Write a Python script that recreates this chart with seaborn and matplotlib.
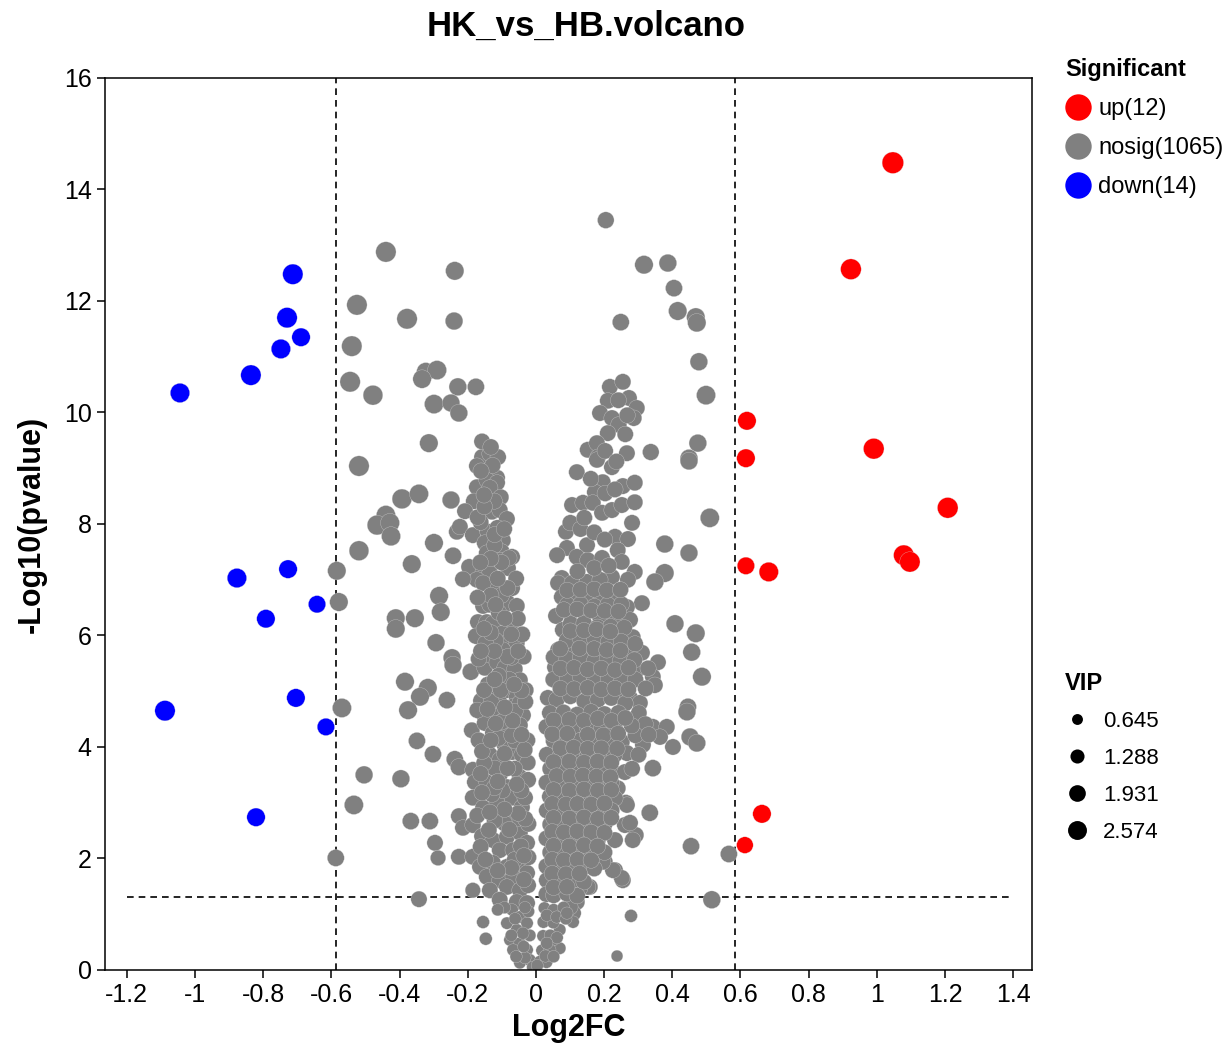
import numpy as np
import pandas as pd
import seaborn as sns
import matplotlib.pyplot as plt
from matplotlib.lines import Line2D

# significant genes (log2FC, -log10 p, VIP)
up_x = [1.047, 0.924, 0.991, 1.208, 1.079, 1.097, 0.619, 0.616, 0.616, 0.683, 0.663, 0.613]
up_y = [14.48, 12.57, 9.35, 8.29, 7.44, 7.32, 9.85, 9.18, 7.25, 7.14, 2.80, 2.24]
up_vip = [3.4, 3.1, 3.1, 3.1, 3.0, 3.0, 2.4, 2.4, 2.1, 2.7, 2.4, 1.9]

down_x = [-0.713, -0.730, -0.689, -0.748, -0.836, -1.044, -0.877, -0.727, -0.642, -0.792,
          -0.704, -1.088, -0.616, -0.821]
down_y = [12.48, 11.70, 11.35, 11.14, 10.67, 10.35, 7.03, 7.19, 6.56, 6.30, 4.88, 4.65, 4.36, 2.74]
down_vip = [3.0, 3.0, 2.4, 2.7, 3.0, 2.7, 2.7, 2.4, 2.1, 2.4, 2.4, 3.0, 2.1, 2.4]

# isolated non-significant genes (log2FC, -log10 p, VIP)
gray_outer = np.array([
    (-0.440, 12.88, 3.0), (-0.238, 12.54, 2.4), (-0.525, 11.93, 3.0), (-0.378, 11.68, 3.0),
    (-0.240, 11.64, 2.2), (-0.540, 11.19, 3.0), (-0.323, 10.73, 2.4), (-0.290, 10.76, 2.6),
    (-0.334, 10.60, 2.4), (-0.545, 10.55, 3.0), (-0.478, 10.31, 2.8), (-0.229, 10.46, 2.2),
    (-0.176, 10.46, 2.0), (-0.299, 10.15, 2.6), (-0.249, 10.17, 2.2), (-0.226, 9.99, 2.2),
    (-0.314, 9.45, 2.4), (-0.519, 9.04, 3.0), (-0.393, 8.45, 2.8), (-0.343, 8.54, 2.6),
    (-0.249, 8.43, 2.2), (-0.440, 8.16, 2.6), (-0.466, 7.98, 2.8), (-0.428, 8.02, 2.6),
    (-0.425, 7.78, 2.6), (-0.299, 7.66, 2.4), (-0.519, 7.52, 2.8), (-0.243, 7.43, 2.0),
    (-0.364, 7.28, 2.4), (-0.584, 7.16, 2.4), (-0.578, 6.60, 2.4), (-0.284, 6.71, 2.4),
    (-0.279, 6.42, 2.4), (-0.411, 6.31, 2.4), (-0.411, 6.12, 2.4), (-0.355, 6.31, 2.4),
    (-0.293, 5.87, 2.2), (-0.246, 5.60, 2.2), (-0.243, 5.47, 2.2), (-0.191, 5.35, 2.0),
    (-0.384, 5.17, 2.4), (-0.317, 5.06, 2.4), (-0.340, 4.90, 2.4), (-0.261, 4.84, 2.0),
    (-0.569, 4.70, 2.6), (-0.375, 4.66, 2.4), (-0.349, 4.11, 2.0), (-0.302, 3.87, 2.0),
    (-0.238, 3.78, 2.0), (-0.226, 3.64, 2.0), (-0.504, 3.50, 2.2), (-0.396, 3.43, 2.2),
    (-0.534, 2.96, 2.6), (-0.367, 2.67, 2.0), (-0.311, 2.67, 2.0), (-0.296, 2.28, 1.8),
    (-0.287, 2.01, 1.6), (-0.226, 2.03, 1.8), (-0.587, 2.01, 2.0), (-0.343, 1.27, 1.8),
    (-0.155, 0.86, 1.0), (-0.147, 0.56, 1.0), (-0.185, 1.43, 1.6),
    (0.205, 13.45, 1.9), (0.317, 12.65, 2.4), (0.387, 12.68, 2.2), (0.405, 12.23, 2.0),
    (0.416, 11.82, 2.4), (0.469, 11.71, 2.4), (0.472, 11.61, 2.4), (0.249, 11.62, 2.0),
    (0.478, 10.91, 2.2), (0.499, 10.31, 2.6), (0.475, 9.45, 2.2), (0.337, 9.29, 1.9),
    (0.449, 9.18, 2.2), (0.449, 9.13, 2.2), (0.510, 8.11, 2.6), (0.378, 7.64, 2.2),
    (0.449, 7.48, 2.2), (0.378, 7.12, 2.4), (0.349, 6.96, 2.2), (0.408, 6.21, 2.2),
    (0.469, 6.04, 2.4), (0.457, 5.70, 2.2), (0.487, 5.26, 2.4), (0.446, 4.72, 2.0),
    (0.443, 4.63, 2.2), (0.452, 4.18, 2.2), (0.472, 4.07, 2.2), (0.343, 3.62, 2.0),
    (0.334, 2.82, 2.0), (0.455, 2.22, 2.0), (0.566, 2.08, 2.0), (0.516, 1.26, 2.2),
    (0.279, 0.97, 1.0), (0.238, 0.25, 0.8),
])

# dense left arm (log2FC, -log10 p)
gray_left = np.array([
    (-0.158, 9.20), (-0.135, 9.26), (-0.111, 9.20), (-0.173, 9.04), (-0.135, 8.95), (-0.144, 8.83),
    (-0.114, 8.83), (-0.173, 8.66), (-0.144, 8.79), (-0.114, 8.74), (-0.135, 8.65), (-0.182, 8.41),
    (-0.103, 8.48), (-0.208, 8.23), (-0.129, 8.22), (-0.106, 8.25), (-0.232, 7.86), (-0.223, 7.95),
    (-0.185, 7.80), (-0.141, 7.86), (-0.085, 8.09), (-0.150, 7.66), (-0.144, 7.48), (-0.097, 7.71),
    (-0.100, 7.50), (-0.106, 7.35), (-0.070, 7.41), (-0.196, 7.23), (-0.155, 7.14), (-0.135, 7.12),
    (-0.173, 7.00), (-0.214, 7.01), (-0.126, 6.87), (-0.155, 6.94), (-0.082, 7.21), (-0.079, 7.39),
    (-0.070, 6.85), (-0.155, 6.53), (-0.135, 6.55), (-0.082, 6.58), (-0.056, 6.53), (-0.170, 6.24),
    (-0.144, 6.24), (-0.126, 6.22), (-0.070, 6.24), (-0.053, 6.30), (-0.176, 5.99), (-0.097, 6.04),
    (-0.085, 5.87), (-0.056, 5.87), (-0.097, 5.74), (-0.150, 5.42), (-0.135, 5.65), (-0.114, 5.52),
    (-0.091, 5.42), (-0.062, 5.40), (-0.047, 5.20), (-0.161, 4.83), (-0.120, 5.08), (-0.085, 5.02),
    (-0.056, 4.90), (-0.106, 4.79), (-0.070, 4.72), (-0.047, 4.79), (-0.150, 4.54), (-0.114, 4.61),
    (-0.085, 4.57), (-0.038, 4.57), (-0.188, 4.30), (-0.150, 4.43), (-0.126, 4.25), (-0.085, 4.30),
    (-0.047, 4.39), (-0.144, 4.04), (-0.135, 3.86), (-0.106, 3.77), (-0.070, 3.91), (-0.041, 3.86),
    (-0.185, 3.59), (-0.179, 3.37), (-0.144, 3.37), (-0.106, 3.50), (-0.085, 3.28), (-0.047, 3.46),
    (-0.023, 3.41), (-0.185, 3.09), (-0.155, 2.91), (-0.114, 3.01), (-0.070, 3.09), (-0.041, 2.92),
    (-0.032, 3.09), (-0.226, 2.76), (-0.214, 2.55), (-0.185, 2.60), (-0.158, 2.40), (-0.126, 2.33),
    (-0.085, 2.39), (-0.047, 2.46), (-0.026, 2.28), (-0.106, 2.15), (-0.067, 2.15), (-0.185, 2.03),
    (-0.164, 1.85), (-0.126, 1.92), (-0.085, 1.85), (-0.047, 1.92), (-0.026, 1.74), (-0.144, 1.67),
    (-0.106, 1.61), (-0.067, 1.67), (-0.135, 1.43), (-0.085, 1.49), (-0.047, 1.43), (-0.106, 1.26),
    (-0.056, 1.22), (-0.026, 1.20),
    (-0.022, 2.62), (-0.024, 3.72), (-0.025, 4.12), (-0.030, 5.02), (-0.036, 5.62), (-0.040, 6.02),
    (-0.022, 2.02), (-0.023, 1.52), (-0.058, 2.71), (-0.092, 2.63), (-0.121, 2.68), (-0.098, 3.22),
    (-0.129, 3.15), (-0.062, 3.61), (-0.121, 3.62), (-0.093, 4.05), (-0.061, 4.11), (-0.101, 4.45),
    (-0.131, 4.81), (-0.078, 5.21), (-0.109, 5.28), (-0.118, 5.91), (-0.148, 5.86), (-0.072, 5.61),
    (-0.109, 6.41), (-0.101, 6.72), (-0.058, 7.02), (-0.121, 7.62), (-0.162, 8.03), (-0.122, 8.41),
    (-0.158, 9.48), (-0.132, 9.38), (-0.162, 2.21), (-0.031, 2.71), (-0.122, 3.27), (-0.158, 3.18),
    (-0.152, 3.71), (-0.109, 4.16), (-0.168, 4.12), (-0.061, 4.64), (-0.172, 4.66), (-0.141, 5.12),
    (-0.168, 5.58), (-0.132, 6.05), (-0.132, 6.72), (-0.171, 6.68), (-0.101, 7.31), (-0.113, 7.93),
    (-0.171, 8.12), (-0.043, 3.22), (-0.062, 1.98), (-0.044, 2.22), (-0.031, 4.81),
    (-0.035, 1.62), (-0.072, 1.83), (-0.112, 1.78), (-0.148, 1.98), (-0.035, 2.05), (-0.078, 2.52),
    (-0.138, 2.51), (-0.172, 2.77), (-0.052, 2.81), (-0.092, 2.88), (-0.135, 2.83), (-0.056, 3.33),
    (-0.112, 3.38), (-0.162, 3.52), (-0.083, 3.62), (-0.033, 3.95), (-0.092, 3.88), (-0.158, 3.92),
    (-0.071, 4.21), (-0.132, 4.12), (-0.042, 4.22), (-0.118, 4.42), (-0.068, 4.47), (-0.142, 4.68),
    (-0.091, 4.71), (-0.042, 5.01), (-0.103, 5.02), (-0.152, 5.02), (-0.064, 5.12), (-0.121, 5.21),
    (-0.083, 5.62), (-0.052, 5.72), (-0.122, 5.72), (-0.161, 5.72), (-0.072, 6.02), (-0.152, 6.12),
    (-0.091, 6.31), (-0.118, 6.55), (-0.083, 6.85), (-0.112, 7.02), (-0.132, 7.38), (-0.163, 7.31),
    (-0.121, 7.81), (-0.093, 7.91), (-0.151, 8.31), (-0.152, 8.52), (-0.127, 9.05), (-0.161, 8.95),
])

# dense right arm (log2FC, -log10 p)
gray_right = np.array([
    (0.217, 10.46), (0.255, 10.55), (0.211, 10.21), (0.273, 10.26), (0.296, 10.08), (0.287, 9.90),
    (0.188, 9.99), (0.223, 9.90), (0.243, 9.78), (0.211, 9.63), (0.152, 9.33), (0.179, 9.45),
    (0.182, 9.20), (0.267, 9.27), (0.120, 8.93), (0.223, 9.02), (0.179, 9.15), (0.196, 8.75),
    (0.173, 8.57), (0.255, 8.68), (0.290, 8.74), (0.106, 8.34), (0.138, 8.38), (0.167, 8.38),
    (0.194, 8.20), (0.223, 8.25), (0.252, 8.34), (0.290, 8.39), (0.282, 8.02), (0.088, 7.86),
    (0.232, 7.77), (0.270, 7.73), (0.150, 7.62), (0.091, 7.57), (0.062, 7.44), (0.120, 7.41),
    (0.152, 7.35), (0.194, 7.39), (0.240, 7.53), (0.252, 7.32), (0.290, 7.14), (0.270, 7.00),
    (0.223, 7.05), (0.076, 7.03), (0.065, 6.94), (0.106, 6.94), (0.150, 6.96), (0.188, 7.00),
    (0.076, 6.69), (0.109, 6.76), (0.150, 6.69), (0.188, 6.76), (0.223, 6.69), (0.311, 6.58),
    (0.267, 6.51), (0.059, 6.35), (0.100, 6.40), (0.144, 6.40), (0.188, 6.33), (0.232, 6.28),
    (0.276, 6.28), (0.079, 6.10), (0.120, 6.01), (0.158, 6.06), (0.196, 5.97), (0.238, 6.04),
    (0.284, 5.97), (0.065, 5.74), (0.109, 5.79), (0.150, 5.74), (0.188, 5.79), (0.226, 5.70),
    (0.267, 5.74), (0.311, 5.69), (0.358, 5.52), (0.056, 5.43), (0.094, 5.38), (0.138, 5.43),
    (0.179, 5.35), (0.217, 5.42), (0.255, 5.33), (0.296, 5.38), (0.343, 5.26), (0.349, 5.11),
    (0.035, 4.88), (0.079, 5.02), (0.120, 5.08), (0.158, 4.99), (0.196, 5.08), (0.240, 5.02),
    (0.276, 4.88), (0.305, 4.79), (0.343, 4.36), (0.384, 4.36), (0.314, 4.04), (0.402, 4.00),
    (0.364, 4.18), (0.252, 4.09), (0.267, 3.89), (0.226, 3.55), (0.261, 3.55), (0.240, 3.26),
    (0.264, 3.00), (0.293, 2.42), (0.261, 2.60), (0.232, 2.33), (0.202, 1.94), (0.232, 1.79),
    (0.255, 1.61), (0.267, 2.96), (0.276, 2.64), (0.284, 2.33), (0.252, 1.65), (0.226, 1.79),
    (0.196, 1.94), (0.158, 1.49), (0.129, 1.49), (0.120, 1.22), (0.094, 1.08), (0.152, 1.49),
    (0.129, 1.47), (0.109, 1.02), (0.100, 1.13),
    (0.101, 8.02), (0.131, 7.91), (0.171, 7.85), (0.202, 7.72), (0.142, 8.11), (0.203, 8.55),
    (0.161, 8.81), (0.232, 8.62), (0.262, 9.61), (0.242, 10.22), (0.268, 9.95), (0.203, 9.31),
    (0.236, 9.12), (0.122, 7.15), (0.171, 7.21), (0.214, 7.25), (0.092, 6.55), (0.131, 6.56),
    (0.172, 6.52), (0.211, 6.55), (0.251, 6.56), (0.102, 6.21), (0.141, 6.22), (0.181, 6.15),
    (0.219, 6.16), (0.259, 6.14), (0.091, 5.91), (0.132, 5.92), (0.171, 5.95), (0.212, 5.88),
    (0.251, 5.89), (0.291, 5.85), (0.052, 5.61), (0.091, 5.58), (0.131, 5.61), (0.172, 5.55),
    (0.209, 5.58), (0.248, 5.55), (0.289, 5.56), (0.329, 5.41), (0.051, 5.21), (0.092, 5.22),
    (0.131, 5.25), (0.171, 5.18), (0.212, 5.22), (0.251, 5.18), (0.292, 5.21), (0.322, 5.05),
    (0.061, 4.85), (0.101, 4.91), (0.142, 4.82), (0.182, 4.85), (0.221, 4.88), (0.262, 4.78),
    (0.302, 4.61), (0.321, 4.41), (0.292, 4.21), (0.331, 4.22), (0.301, 3.86), (0.282, 3.61),
    (0.041, 4.61), (0.081, 4.62), (0.121, 4.58), (0.162, 4.63), (0.201, 4.59), (0.242, 4.61),
    (0.031, 4.36), (0.072, 4.33), (0.112, 4.37), (0.151, 4.35), (0.192, 4.32), (0.231, 4.36),
    (0.281, 4.38), (0.052, 4.11), (0.091, 4.08), (0.131, 4.12), (0.172, 4.09), (0.212, 4.11),
    (0.032, 3.86), (0.071, 3.84), (0.112, 3.87), (0.152, 3.85), (0.191, 3.83), (0.231, 3.86),
    (0.042, 3.61), (0.081, 3.58), (0.122, 3.62), (0.161, 3.59), (0.202, 3.61), (0.031, 3.36),
    (0.072, 3.34), (0.111, 3.37), (0.151, 3.35), (0.192, 3.32), (0.221, 3.36), (0.041, 3.11),
    (0.082, 3.08), (0.121, 3.12), (0.162, 3.09), (0.201, 3.11), (0.232, 3.08), (0.032, 2.86),
    (0.062, 2.84), (0.102, 2.87), (0.141, 2.85), (0.182, 2.82), (0.222, 2.86), (0.042, 2.61),
    (0.081, 2.58), (0.122, 2.62), (0.161, 2.59), (0.201, 2.61), (0.031, 2.36), (0.062, 2.34),
    (0.102, 2.37), (0.141, 2.35), (0.181, 2.32), (0.042, 2.11), (0.082, 2.08), (0.121, 2.12),
    (0.162, 2.09), (0.201, 2.11), (0.031, 1.86), (0.062, 1.84), (0.101, 1.87), (0.141, 1.85),
    (0.171, 1.82), (0.032, 1.61), (0.071, 1.59), (0.112, 1.62), (0.141, 1.58), (0.031, 1.36),
    (0.052, 1.34), (0.091, 1.37), (0.121, 1.33),
    (0.052, 4.48), (0.098, 4.49), (0.141, 4.47), (0.182, 4.51), (0.222, 4.47), (0.262, 4.52),
    (0.048, 4.23), (0.092, 4.24), (0.152, 4.22), (0.198, 4.21), (0.241, 4.24), (0.072, 3.98),
    (0.111, 3.99), (0.152, 3.97), (0.192, 3.98), (0.238, 3.97), (0.052, 3.73), (0.098, 3.74),
    (0.141, 3.72), (0.181, 3.74), (0.221, 3.72), (0.061, 3.48), (0.101, 3.47), (0.138, 3.49),
    (0.178, 3.47), (0.218, 3.46), (0.052, 3.23), (0.098, 3.22), (0.141, 3.24), (0.182, 3.22),
    (0.221, 3.23), (0.048, 2.98), (0.088, 2.97), (0.122, 2.98), (0.162, 2.97), (0.201, 2.99),
    (0.052, 2.73), (0.098, 2.72), (0.141, 2.74), (0.182, 2.71), (0.221, 2.73), (0.048, 2.48),
    (0.082, 2.47), (0.121, 2.49), (0.162, 2.47), (0.201, 2.46), (0.052, 2.23), (0.098, 2.22),
    (0.141, 2.24), (0.181, 2.22), (0.048, 1.98), (0.082, 1.97), (0.122, 1.98), (0.162, 1.97),
    (0.048, 1.73), (0.088, 1.72), (0.128, 1.73), (0.052, 1.48), (0.091, 1.49), (0.072, 5.05),
    (0.112, 5.04), (0.152, 5.06), (0.192, 5.03), (0.232, 5.05), (0.271, 5.03), (0.072, 5.41),
    (0.112, 5.42), (0.152, 5.39), (0.192, 5.41), (0.232, 5.38), (0.272, 5.42), (0.071, 5.76),
    (0.128, 5.77), (0.171, 5.76), (0.208, 5.74), (0.248, 5.73), (0.101, 6.08), (0.141, 6.09),
    (0.178, 6.11), (0.218, 6.07), (0.082, 6.46), (0.121, 6.47), (0.162, 6.45), (0.202, 6.44),
    (0.242, 6.43), (0.092, 6.81), (0.131, 6.82), (0.171, 6.83), (0.208, 6.81), (0.248, 6.82),
])

# small low-significance genes near the origin
gray_low = np.array([
    (-0.070, 1.08), (-0.047, 0.95), (-0.085, 0.84), (-0.056, 0.72), (-0.026, 0.84), (-0.076, 0.54),
    (-0.047, 0.48), (-0.026, 0.36), (-0.067, 0.36), (-0.018, 0.18), (-0.047, 0.13), (-0.009, 0.05),
    (-0.022, 1.05), (-0.018, 0.62), (-0.032, 0.22), (-0.092, 1.12), (-0.061, 0.92), (-0.038, 0.66),
    (-0.058, 0.24), (-0.032, 1.12), (-0.112, 1.08), (-0.072, 0.62), (-0.036, 0.42),
    (0.109, 0.86), (0.070, 0.39), (0.050, 0.54), (0.070, 0.72), (0.025, 1.11), (0.052, 1.08),
    (0.081, 1.12), (0.022, 0.86), (0.051, 0.85), (0.021, 0.61), (0.042, 0.62), (0.018, 0.35),
    (0.041, 0.36), (0.012, 0.15), (0.031, 0.14), (0.004, 0.08), (0.032, 0.98), (0.061, 0.95),
    (0.088, 0.92), (0.062, 0.58), (0.032, 0.48), (0.028, 0.25), (0.052, 0.24), (0.091, 1.02),
])

sig_labels = {"up": "up(12)", "nosig": "nosig(1065)", "down": "down(14)"}
sig_colors = {"up": "#FF0000", "nosig": "#808080", "down": "#0000FF"}
vip_levels = [0.645, 1.288, 1.931, 2.574]
x_ticks = [-1.2, -1, -0.8, -0.6, -0.4, -0.2, 0, 0.2, 0.4, 0.6, 0.8, 1, 1.2, 1.4]
fc_cut = 0.585
p_cut = 1.301

frames = [
    pd.DataFrame({"log2fc": gray_outer[:, 0], "nlp": gray_outer[:, 1], "vip": gray_outer[:, 2], "sig": "nosig"}),
    pd.DataFrame({"log2fc": gray_left[:, 0], "nlp": gray_left[:, 1], "vip": 1.8, "sig": "nosig"}),
    pd.DataFrame({"log2fc": gray_right[:, 0], "nlp": gray_right[:, 1], "vip": 1.8, "sig": "nosig"}),
    pd.DataFrame({"log2fc": gray_low[:, 0], "nlp": gray_low[:, 1], "vip": 0.9, "sig": "nosig"}),
    pd.DataFrame({"log2fc": up_x, "nlp": up_y, "vip": up_vip, "sig": "up"}),
    pd.DataFrame({"log2fc": down_x, "nlp": down_y, "vip": down_vip, "sig": "down"}),
]
df = pd.concat(frames, ignore_index=True)

sns.set_style("ticks")
plt.rcParams["font.family"] = ["Liberation Sans", "DejaVu Sans"]
plt.rcParams["axes.unicode_minus"] = False
plt.rcParams["text.color"] = "black"
plt.rcParams["axes.labelcolor"] = "black"

fig, ax = plt.subplots(figsize=(12.25, 10.51), dpi=100)
fig.subplots_adjust(left=0.0857, right=0.8424, bottom=0.0771, top=0.9258)

size_range = (20, 245)
size_norm = (0, 3.5)
sns.scatterplot(data=df, x="log2fc", y="nlp", hue="sig", palette=sig_colors,
                size="vip", sizes=size_range, size_norm=size_norm,
                edgecolor="#dcdcdc", linewidth=0.2, legend=False, ax=ax)

ax.axvline(-fc_cut, color="black", lw=1.2, ls=(0, (4, 3)), zorder=0)
ax.axvline(fc_cut, color="black", lw=1.2, ls=(0, (4, 3)), zorder=0)
ax.hlines(p_cut, -1.2, 1.4, color="black", lw=1.2, ls=(0, (4, 3)), zorder=0)

ax.set_xlim(-1.264, 1.455)
ax.set_ylim(0, 16)
ax.set_xticks(x_ticks)
ax.set_xticklabels([f"{v:g}" for v in x_ticks])
ax.set_yticks(range(0, 17, 2))
ax.tick_params(labelsize=18, length=6, width=1.1, direction="out", colors="black")
for sp in ax.spines.values():
    sp.set_color("black")
    sp.set_linewidth(1.1)

ax.set_xlabel("Log2FC", fontsize=22, fontweight="bold", labelpad=4)
ax.set_ylabel("-Log10(pvalue)", fontsize=22, fontweight="bold", labelpad=12)
fig.text(586 / 1225, 1 - 26 / 1051, "HK_vs_HB.volcano", fontsize=25, fontweight="bold",
         ha="center", va="center")

# legend for groups
sig_handles = [Line2D([], [], ls="none", marker="o", markersize=19, markeredgewidth=0,
                      color=sig_colors[k], label=sig_labels[k]) for k in ["up", "nosig", "down"]]
leg1 = fig.legend(handles=sig_handles, title="Significant", loc="upper left",
                  bbox_to_anchor=(1065 / 1225, 1 - 58 / 1051), frameon=False,
                  fontsize=17, title_fontproperties={"weight": "bold", "size": 17},
                  alignment="left", borderpad=0, borderaxespad=0,
                  handlelength=1.1, handletextpad=0.3, labelspacing=0.72)

# legend for VIP sizes
vip_handles = []
for v in vip_levels:
    s = size_range[0] + (v - size_norm[0]) / (size_norm[1] - size_norm[0]) * (size_range[1] - size_range[0])
    vip_handles.append(Line2D([], [], ls="none", marker="o", markersize=np.sqrt(s),
                              markeredgewidth=0, color="black", label=f"{v:.3f}"))
leg2 = fig.legend(handles=vip_handles, title="VIP", loc="upper left",
                  bbox_to_anchor=(1065 / 1225, 1 - 672 / 1051), frameon=False,
                  fontsize=16, title_fontproperties={"weight": "bold", "size": 17},
                  alignment="left", borderpad=0, borderaxespad=0,
                  handlelength=1.1, handletextpad=0.6, labelspacing=0.72)

fig.savefig("out.png", dpi=100)
